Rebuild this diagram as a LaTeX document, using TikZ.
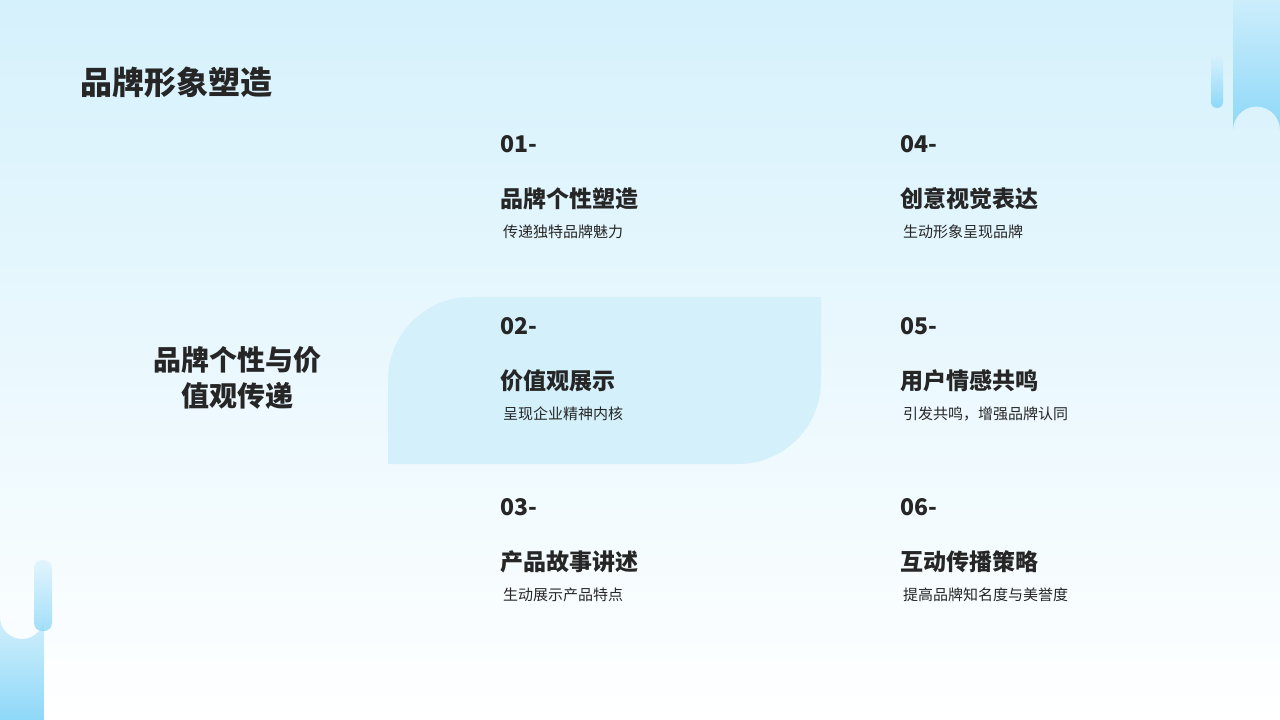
\documentclass[tikz,border=0pt]{standalone}
\usepackage{fontspec}
\setmainfont{Noto Sans CJK SC}
\usetikzlibrary{positioning}
\definecolor{TopBlue}{HTML}{D5F1FC}
\definecolor{BarBlue}{HTML}{8ED8F8}
\definecolor{HiBlue}{HTML}{D3F0FB}
\definecolor{TextDark}{HTML}{262626}
\tikzset{
  numtxt/.style={anchor=west, font=\fontsize{23}{26}\selectfont\bfseries, text=TextDark, inner sep=0},
  headtxt/.style={anchor=west, font=\fontsize{23}{26}\selectfont\bfseries, text=TextDark, inner sep=0},
  subtxt/.style={anchor=west, font=\fontsize{15}{18}\selectfont, text=TextDark, inner sep=0}
}
\begin{document}
\begin{tikzpicture}[x=1pt,y=-1pt]
  % background
  \shade[top color=TopBlue, bottom color=white] (0,0) rectangle (1280,720);
  \useasboundingbox (0,0) rectangle (1280,720);

  % decorations
  \shade[top color=BarBlue!45, bottom color=BarBlue] (1233,0) -- (1233,130) arc[start angle=180, end angle=360, radius=23.5] -- (1280,0) -- cycle;
  \shade[top color=BarBlue!35, bottom color=BarBlue, rounded corners=6] (1211,55) rectangle (1223,108);
  \shade[top color=BarBlue!40, bottom color=BarBlue] (0,720) -- (0,617) arc[start angle=180, end angle=0, radius=22] -- (44,720) -- cycle;
  \shade[top color=BarBlue!30, bottom color=BarBlue, opacity=0.8, rounded corners=8] (34,560) rectangle (52,631);

  % highlight
  \fill[HiBlue] (388,464) -- (388,380) arc[start angle=180, end angle=270, radius=83] -- (821,297) -- (821,381) arc[start angle=0, end angle=90, radius=83] -- cycle;

  % title
  \node[anchor=west, inner sep=0, text=TextDark, font=\fontsize{32}{36}\selectfont\bfseries] (title) at (80,82) {品牌形象塑造};
  \node[align=center, inner sep=0, text=TextDark, font=\fontsize{28}{36}\selectfont\bfseries] (theme) at (237,378) {品牌个性与价\\值观传递};

  % items
  \foreach \n/\x/\y/\head/\sub in {
    01/500/0/品牌个性塑造/传递独特品牌魅力,
    02/500/182/价值观展示/呈现企业精神内核,
    03/500/363/产品故事讲述/生动展示产品特点,
    04/900/0/创意视觉表达/生动形象呈现品牌,
    05/900/182/用户情感共鸣/引发共鸣，增强品牌认同,
    06/900/363/互动传播策略/提高品牌知名度与美誉度} {
    \node[numtxt] (num\n) at (\x,144+\y) {\n-};
    \node[headtxt] (head\n) at (\x,199+\y) {\head};
    \node[subtxt] (sub\n) at (\x+3,232+\y) {\sub};
  }
\end{tikzpicture}
\end{document}
